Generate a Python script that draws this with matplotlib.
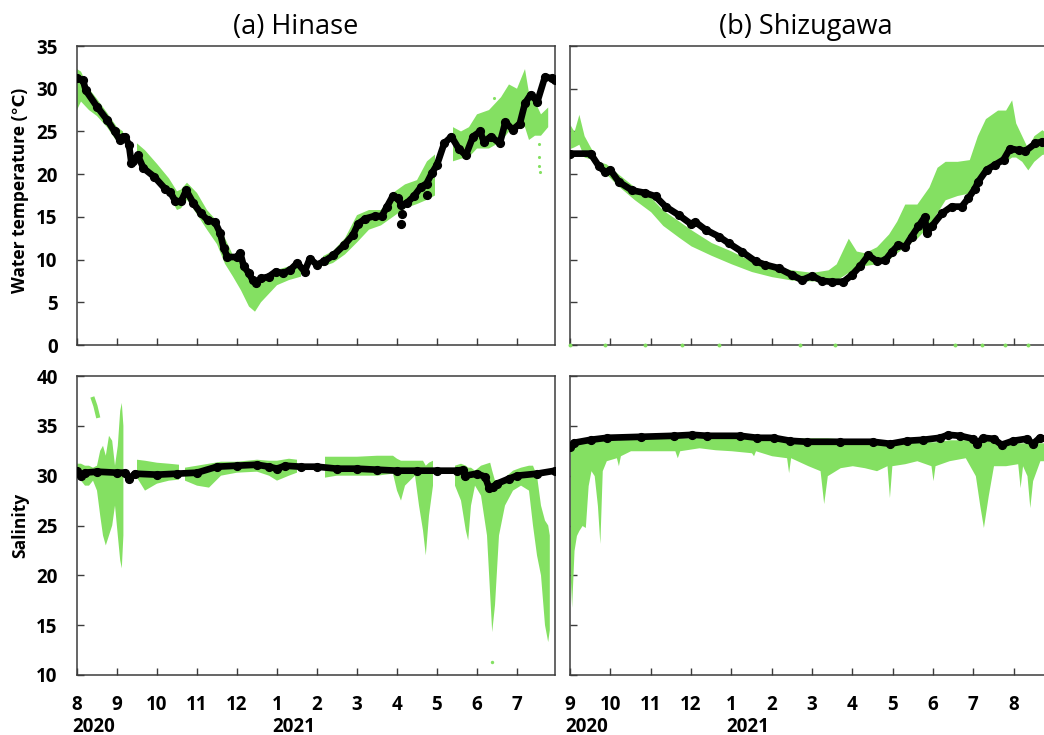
import numpy as np
import matplotlib
matplotlib.use("Agg")
import matplotlib.pyplot as plt

plt.rcParams['font.family'] = ['Open Sans', 'DejaVu Sans']

nan = np.nan

# ---------------- labels ----------------
titles = ['(a) Hinase', '(b) Shizugawa']
months_a = ['8', '9', '10', '11', '12', '1', '2', '3', '4', '5', '6', '7']
months_b = ['9', '10', '11', '12', '1', '2', '3', '4', '5', '6', '7', '8']
years = ['2020', '2021']
year_pos_a = [0, 5]
year_pos_b = [0, 4]
temp_ticks = [0, 5, 10, 15, 20, 25, 30, 35]
sal_ticks = [10, 15, 20, 25, 30, 35, 40]
ylabel_temp = 'Water temperature (℃)'
ylabel_sal = 'Salinity'

# x values are in months since start of each panel
# ---------------- (a) Hinase water temperature ----------------
hin_temp_x = [0, 0.15, 0.22, 0.5, 0.76, 0.94, 1.07, 1.14, 1.2, 1.3,
              1.36, 1.4, 1.52, 1.66, 1.93, 2.2, 2.33, 2.46, 2.6, 2.73,
              2.91, 3.1, 3.27, 3.45, 3.58, 3.67, 3.76, 3.99, 4.08, 4.17,
              4.3, 4.39, 4.48, 4.61, 4.79, 4.97, 5.15, 5.33, 5.51, 5.69,
              5.82, 6.0, 6.18, 6.41, 6.68, 6.9, 7.03, 7.21, 7.44, 7.62,
              7.75, 7.89, 8.02, 8.11, 8.24, 8.42, 8.6, 8.74, 8.87, 9.0,
              9.18, 9.36, 9.54, 9.72, 9.9, 10.08, 10.17, 10.35, 10.57, 10.71,
              10.89, 11.07, 11.2, 11.34, 11.51, 11.7, 11.87, 11.95]
hin_temp_y = [31.2, 31.0, 29.8, 27.9, 26.3, 25.0, 24.0, 24.3, 24.4, 23.4,
              21.3, 21.5, 22.2, 20.7, 19.7, 18.3, 17.9, 16.8, 16.8, 18.1,
              16.6, 15.4, 14.6, 14.4, 13.1, 11.3, 10.3, 10.3, 10.8, 9.2,
              8.4, 7.6, 7.3, 7.8, 8.0, 8.6, 8.4, 8.8, 9.6, 8.6,
              10.1, 9.4, 9.8, 10.5, 11.7, 12.9, 14.2, 14.8, 15.1, 15.1,
              16.2, 17.4, 17.2, 16.4, 16.6, 17.4, 18.5, 18.9, 20.1, 21.1,
              23.6, 24.4, 23.0, 22.2, 24.4, 25.0, 23.8, 24.4, 23.6, 26.1,
              25.2, 25.9, 28.3, 29.3, 28.5, 31.4, 31.2, 31.0]
hin_temp_odd_x = [8.11, 8.13, 8.74]
hin_temp_odd_y = [14.2, 15.3, 17.6]

hin_temp_gx = [0, 0.1, 0.3, 0.5, 0.75, 1.0, 1.15, nan,
               1.5, 1.7, 2.0, 2.3, 2.5, 2.6, 2.75, 3.0, 3.25, 3.5, 3.7, 3.9,
               4.1, 4.3, 4.45, 4.6, 4.8, 5.0, 5.3, 5.6, nan,
               6.15, 6.4, 6.7, 7.0, 7.3, 7.6, 7.9, 8.2, 8.5, 8.75, 8.95, nan,
               9.4, 9.6, 9.8, 10.0, 10.3, 10.6, 10.8, 11.0, 11.2, 11.3, 11.45, 11.6, 11.78]
hin_temp_glo = [27.5, 28.5, 27.5, 26.8, 25.5, 23.8, 23.5, nan,
                21.5, 20.6, 19.2, 17.5, 15.8, 16.0, 17.0, 15.3, 13.5, 11.8, 9.5, 8.0,
                6.4, 4.5, 3.9, 5.0, 6.0, 7.0, 7.6, 8.0, nan,
                9.2, 9.6, 10.6, 12.0, 13.5, 14.0, 15.0, 16.0, 16.5, 17.0, 17.5, nan,
                21.5, 21.8, 22.0, 23.0, 23.0, 23.8, 25.0, 25.8, 25.5, 24.0, 24.5, 24.5, 25.5]
hin_temp_ghi = [32.3, 32.0, 30.0, 28.8, 27.2, 25.5, 25.0, nan,
                23.6, 22.8, 21.2, 19.5, 18.0, 18.2, 19.0, 17.8, 15.8, 14.5, 12.5, 10.5,
                11.0, 8.5, 7.8, 7.8, 8.2, 8.8, 9.2, 9.7, nan,
                10.4, 11.0, 12.5, 15.2, 15.8, 15.8, 17.8, 18.8, 19.3, 21.5, 22.3, nan,
                25.5, 25.0, 25.5, 27.0, 27.5, 29.0, 30.5, 30.0, 32.3, 29.5, 28.5, 27.0, 27.8]
hin_temp_gdot_x = [11.55, 11.55, 11.56, 11.57, 10.43, 10.44]
hin_temp_gdot_y = [23.5, 22.0, 21.0, 20.3, 28.9, 27.8]

# ---------------- (b) Shizugawa water temperature ----------------
shz_temp_x = [0, 0.51, 0.72, 0.88, 1.0, 1.21, 1.54, 1.87, 2.12, 2.37,
              2.7, 2.99, 3.11, 3.36, 3.69, 3.94, 4.27, 4.6, 4.84, 5.17,
              5.5, 5.75, 6.0, 6.25, 6.49, 6.78, 6.99, 7.19, 7.4, 7.61,
              7.81, 7.98, 8.14, 8.31, 8.47, 8.64, 8.8, 8.84, 8.97, 9.22,
              9.46, 9.71, 9.88, 10.04, 10.12, 10.33, 10.54, 10.75, 10.91, 11.12,
              11.29, 11.54, 11.71, 11.9]
shz_temp_y = [22.4, 22.4, 20.9, 20.2, 20.5, 19.1, 18.1, 17.8, 17.4, 16.2,
              15.2, 14.2, 14.4, 13.5, 12.7, 11.9, 10.9, 9.8, 9.4, 9.0,
              8.2, 7.6, 8.1, 7.5, 7.4, 7.4, 8.2, 9.2, 10.5, 9.8,
              9.9, 10.9, 11.7, 11.5, 12.7, 13.9, 15.0, 13.1, 13.9, 15.4,
              16.2, 16.2, 17.2, 18.3, 19.1, 20.5, 21.1, 21.7, 23.0, 22.8,
              22.7, 23.6, 23.8, 23.6]

shz_temp_gx = [0, 0.1, 0.22, 0.35, 0.5, 0.7, 0.9, 1.2, 1.6, 2.0,
               2.3, 2.7, 3.0, 3.5, 4.0, 4.5, 5.0, 5.5, 6.0, 6.4,
               6.6, 6.9, 7.1, 7.3, 7.6, 7.9, 8.1, 8.3, 8.6, 8.9,
               9.1, 9.3, 9.6, 9.9, 10.1, 10.3, 10.6, 10.8, 10.95, 11.05,
               11.2, 11.35, 11.5, 11.7, 11.9, 12.0]
shz_temp_glo = [23.0, 23.2, 23.5, 22.0, 21.8, 20.5, 20.0, 18.6, 17.0, 15.6,
                14.0, 12.6, 11.6, 10.5, 9.5, 8.6, 8.0, 7.6, 7.5, 7.5,
                7.6, 8.5, 9.0, 9.3, 9.5, 10.0, 10.8, 11.5, 12.5, 14.0,
                15.5, 17.0, 17.5, 17.8, 19.0, 20.0, 21.0, 21.5, 22.0, 22.0,
                21.5, 20.5, 21.5, 22.3, 22.5, 22.5]
shz_temp_ghi = [25.8, 25.0, 27.0, 24.5, 23.2, 21.5, 21.2, 20.0, 18.5, 17.3,
                15.8, 14.5, 13.5, 12.0, 11.0, 9.8, 9.3, 8.8, 8.5, 8.8,
                9.5, 12.5, 11.0, 10.8, 11.5, 13.0, 14.5, 16.5, 16.5, 18.5,
                20.8, 21.5, 21.5, 21.7, 24.5, 26.5, 27.5, 27.5, 28.7, 26.0,
                24.5, 23.0, 24.5, 25.2, 24.5, 24.0]
shz_temp_zero_x = [0.0, 0.88, 1.87, 2.78, 3.69, 5.71, 6.58, 9.55, 10.21, 10.79, 11.36]
shz_temp_zero_y = [0, 0, 0, 0, 0, 0, 0, 0, 0, 0, 0]

# ---------------- (a) Hinase salinity ----------------
hin_sal_x = [0, 0.1, 0.2, 0.5, 1.0, 1.2, 1.3, 1.45, 2.0, 2.5,
             3.0, 3.5, 4.0, 4.5, 4.8, 5.0, 5.2, 5.6, 6.0, 6.5,
             7.0, 7.5, 8.0, 8.5, 9.0, 9.5, 9.65, 9.7, 10.0, 10.2,
             10.3, 10.4, 10.5, 10.8, 11.0, 11.5, 11.95]
hin_sal_y = [30.5, 30.0, 30.3, 30.4, 30.3, 30.3, 29.7, 30.2, 30.1, 30.2,
             30.3, 30.9, 31.0, 31.1, 30.9, 30.7, 31.0, 30.9, 30.9, 30.7,
             30.7, 30.6, 30.5, 30.5, 30.5, 30.5, 30.6, 30.0, 30.2, 29.9,
             28.8, 28.9, 29.2, 29.7, 30.0, 30.2, 30.5]

hin_sal_gx = [0, 0.1, 0.2, 0.3, 0.4, 0.5, 0.58, 0.65, 0.72, 0.8,
              0.88, 0.95, 1.02, 1.08, 1.12, 1.16, nan, 1.5, 1.7, 2.0,
              2.3, 2.55, nan, 2.7, 3.0, 3.3, 3.6, 4.0, 4.5, 4.8,
              5.0, 5.3, 5.5, nan, 6.2, 6.5, 7.0, 7.5, 7.9, 8.0,
              8.1, 8.2, 8.45, 8.55, 8.65, 8.72, 8.8, 8.9, nan, 9.45,
              9.6, 9.72, 9.78, 9.85, 9.95, 10.1, 10.25, 10.33, 10.38, 10.45,
              10.55, 10.7, 10.9, 11.1, 11.3, 11.4, 11.5, 11.6, 11.7, 11.78,
              11.82]
hin_sal_glo = [29.8, 29.5, 29.0, 29.0, 29.5, 28.5, 26.0, 24.0, 23.0, 24.0,
               25.0, 27.0, 24.0, 21.5, 20.7, 24.0, nan, 29.8, 28.5, 29.2,
               29.5, 29.6, nan, 29.5, 29.0, 28.8, 30.0, 30.3, 30.4, 30.0,
               29.5, 30.0, 30.3, nan, 29.8, 30.0, 30.0, 30.0, 30.2, 28.5,
               27.5, 29.0, 30.0, 27.0, 24.5, 22.0, 26.0, 29.0, nan, 29.0,
               27.5, 24.5, 23.5, 27.0, 29.0, 28.0, 24.0, 18.0, 14.3, 17.0,
               24.0, 27.0, 28.5, 29.0, 28.5, 25.0, 22.0, 20.0, 15.0, 13.3,
               14.5]
hin_sal_ghi = [31.2, 31.2, 31.0, 31.0, 30.8, 31.0, 32.5, 33.0, 32.0, 34.0,
               33.5, 31.0, 33.0, 36.5, 37.3, 35.0, nan, 31.6, 31.5, 31.3,
               31.2, 31.1, nan, 30.8, 31.0, 31.2, 31.4, 31.4, 31.6, 31.5,
               31.5, 31.7, 31.6, nan, 31.9, 31.9, 31.9, 32.0, 32.0, 31.7,
               31.5, 31.5, 31.5, 31.5, 31.5, 31.0, 31.3, 31.5, nan, 31.0,
               31.2, 31.0, 30.8, 30.8, 30.5, 31.0, 31.2, 31.3, 30.5, 29.5,
               29.5, 29.8, 30.5, 30.8, 31.0, 31.0, 30.0, 27.0, 25.5, 25.0,
               24.0]
hin_sal_high_x = [0.4, 0.46, 0.52]
hin_sal_high_y = [37.7, 37.0, 36.0]
hin_sal_gdot_x = [10.38]
hin_sal_gdot_y = [11.3]

# ---------------- (b) Shizugawa salinity ----------------
shz_sal_x = [0, 0.1, 0.51, 0.92, 1.75, 2.57, 3.03, 3.4, 4.22, 4.64,
             5.05, 5.46, 5.87, 6.7, 7.52, 7.94, 8.35, 8.76, 9.17, 9.38,
             9.67, 10.0, 10.08, 10.25, 10.5, 10.7, 10.99, 11.32, 11.48, 11.65,
             11.9]
shz_sal_y = [32.9, 33.3, 33.6, 33.8, 33.9, 34.0, 34.1, 34.0, 34.0, 33.8,
             33.8, 33.5, 33.4, 33.4, 33.4, 33.2, 33.5, 33.6, 33.8, 34.1,
             34.0, 33.7, 33.2, 33.8, 33.7, 33.1, 33.5, 33.7, 33.2, 33.8,
             33.6]

shz_sal_gx = [0, 0.04, 0.1, 0.16, 0.22, 0.3, 0.38, 0.45, 0.52, 0.6,
              0.68, 0.74, 0.8, 0.9, 1.15, 1.2, 1.25, 1.5, 2.0, 2.6,
              2.66, 2.72, 3.2, 3.6, 4.0, 4.5, 4.55, 4.6, 5.0, 5.37,
              5.42, 5.47, 5.9, 6.2, 6.29, 6.38, 6.7, 7.0, 7.3, 7.6,
              7.86, 7.92, 7.98, 8.3, 8.6, 8.95, 9.0, 9.05, 9.4, 9.8,
              10.05, 10.16, 10.25, 10.37, 10.5, 10.8, 11.1, 11.16, 11.22, 11.33,
              11.4, 11.47, 11.65, 11.85, 12.0]
shz_sal_glo = [20.5, 16.8, 22.5, 24.0, 24.5, 25.0, 24.8, 29.0, 30.5, 30.0,
               27.0, 23.2, 30.5, 31.5, 31.8, 31.0, 32.0, 32.5, 32.5, 32.5,
               31.8, 32.5, 32.8, 32.6, 32.5, 32.3, 32.0, 32.5, 32.0, 31.8,
               30.3, 31.8, 31.0, 30.5, 27.2, 30.0, 30.8, 31.0, 30.8, 30.5,
               31.0, 27.8, 31.0, 31.2, 31.5, 31.0, 29.5, 31.0, 31.5, 31.8,
               30.0, 27.0, 24.8, 28.0, 31.0, 31.0, 31.2, 28.8, 31.0, 30.0,
               26.8, 29.5, 31.5, 31.5, 31.5]
shz_sal_ghi = [33.0, 33.1, 33.2, 33.3, 33.4, 33.5, 33.5, 33.5, 33.6, 33.6,
               33.6, 33.6, 33.6, 33.6, 33.6, 33.6, 33.7, 33.7, 33.8, 33.8,
               33.8, 33.8, 33.8, 33.8, 33.8, 33.7, 33.7, 33.7, 33.8, 33.8,
               33.8, 33.8, 33.8, 33.8, 33.8, 33.8, 33.7, 33.6, 33.4, 33.4,
               33.3, 33.3, 33.3, 33.4, 33.4, 33.4, 33.4, 33.4, 33.6, 33.6,
               33.5, 33.5, 33.5, 33.5, 33.4, 33.3, 33.3, 33.3, 33.3, 33.3,
               33.3, 33.3, 33.3, 33.3, 33.3]

# ---------------- styling ----------------
GREEN = '#84E062'
BLACK = '#000000'
SPINE = '#3c3c3c'
W, H = 1044, 735

fig = plt.figure(figsize=(W / 100, H / 100), dpi=100)


def add_axes(left, top, right, bottom):
    return fig.add_axes([left / W, 1 - bottom / H, (right - left) / W, (bottom - top) / H])


ax_ta = add_axes(77, 46, 555, 345)
ax_sa = add_axes(77, 376, 555, 675)
ax_tb = add_axes(570, 46, 1054, 345)
ax_sb = add_axes(570, 376, 1054, 675)


def green_band(ax, x, lo, hi):
    ax.fill_between(np.array(x, float), np.array(lo, float), np.array(hi, float),
                    color=GREEN, linewidth=0, zorder=2)


def black_dots(ax, x, y):
    ax.plot(x, y, '-', color=BLACK, lw=4.8, solid_capstyle='round', zorder=4)
    ax.plot(x, y, 'o', color=BLACK, ms=5.6, zorder=4)


# panel (a) temperature
green_band(ax_ta, hin_temp_gx, hin_temp_glo, hin_temp_ghi)
ax_ta.scatter(hin_temp_gdot_x, hin_temp_gdot_y, s=5, color=GREEN, lw=0, zorder=2)
black_dots(ax_ta, hin_temp_x, hin_temp_y)
ax_ta.plot(hin_temp_odd_x, hin_temp_odd_y, 'o', color=BLACK, ms=5.6, zorder=4)

# panel (b) temperature
green_band(ax_tb, shz_temp_gx, shz_temp_glo, shz_temp_ghi)
ax_tb.scatter(shz_temp_zero_x, shz_temp_zero_y, s=8, color=GREEN, lw=0, zorder=5, clip_on=False)
black_dots(ax_tb, shz_temp_x, shz_temp_y)

# panel (a) salinity
green_band(ax_sa, hin_sal_gx, hin_sal_glo, hin_sal_ghi)
ax_sa.plot(hin_sal_high_x, hin_sal_high_y, '-', color=GREEN, lw=3, zorder=2)
ax_sa.scatter(hin_sal_gdot_x, hin_sal_gdot_y, s=6, color=GREEN, lw=0, zorder=2)
black_dots(ax_sa, hin_sal_x, hin_sal_y)

# panel (b) salinity
green_band(ax_sb, shz_sal_gx, shz_sal_glo, shz_sal_ghi)
black_dots(ax_sb, shz_sal_x, shz_sal_y)

for ax in (ax_ta, ax_sa, ax_tb, ax_sb):
    for sp in ax.spines.values():
        sp.set_color(SPINE)
        sp.set_linewidth(1.1)
    ax.tick_params(direction='in', length=5, width=1.0, color=SPINE,
                   labelsize=13.5, pad=14.5)
    ax.tick_params(axis='y', pad=14)
    ax.set_xticks(range(12))

ax_ta.set_xlim(0, 11.95)
ax_sa.set_xlim(0, 11.95)
ax_tb.set_xlim(0, 12)
ax_sb.set_xlim(0, 12)

for ax in (ax_ta, ax_tb):
    ax.set_ylim(0, 35)
    ax.set_yticks(temp_ticks)
    ax.set_xticklabels([])
for ax in (ax_sa, ax_sb):
    ax.set_ylim(10, 40)
    ax.set_yticks(sal_ticks)

ax_tb.set_yticklabels([])
ax_sb.set_yticklabels([])
ax_ta.set_yticklabels([str(t) for t in temp_ticks], fontweight='bold')
ax_sa.set_yticklabels([str(t) for t in sal_ticks], fontweight='bold')
ax_sa.set_xticklabels(months_a, fontweight='bold')
ax_sb.set_xticklabels(months_b, fontweight='bold')

for ax, pos in ((ax_sa, year_pos_a), (ax_sb, year_pos_b)):
    for yr, p in zip(years, pos):
        ax.annotate(yr, xy=(p, 0), xycoords=('data', 'axes fraction'),
                    xytext=(-5, -52), textcoords='offset pixels',
                    ha='left', va='center', fontsize=13.5, fontweight='bold',
                    annotation_clip=False)

# y labels
fig.text(20 / W, 1 - 190 / H, ylabel_temp, rotation=90, ha='center', va='center',
         fontsize=12.5, fontweight='bold')
fig.text(20 / W, 1 - 525 / H, ylabel_sal, rotation=90, ha='center', va='center',
         fontsize=12.5, fontweight='bold')

# titles
fig.text(296 / W, 1 - 27 / H, titles[0], ha='center', va='center', fontsize=19.5)
fig.text(806 / W, 1 - 27 / H, titles[1], ha='center', va='center', fontsize=19.5)

fig.savefig('out.png', dpi=100)
